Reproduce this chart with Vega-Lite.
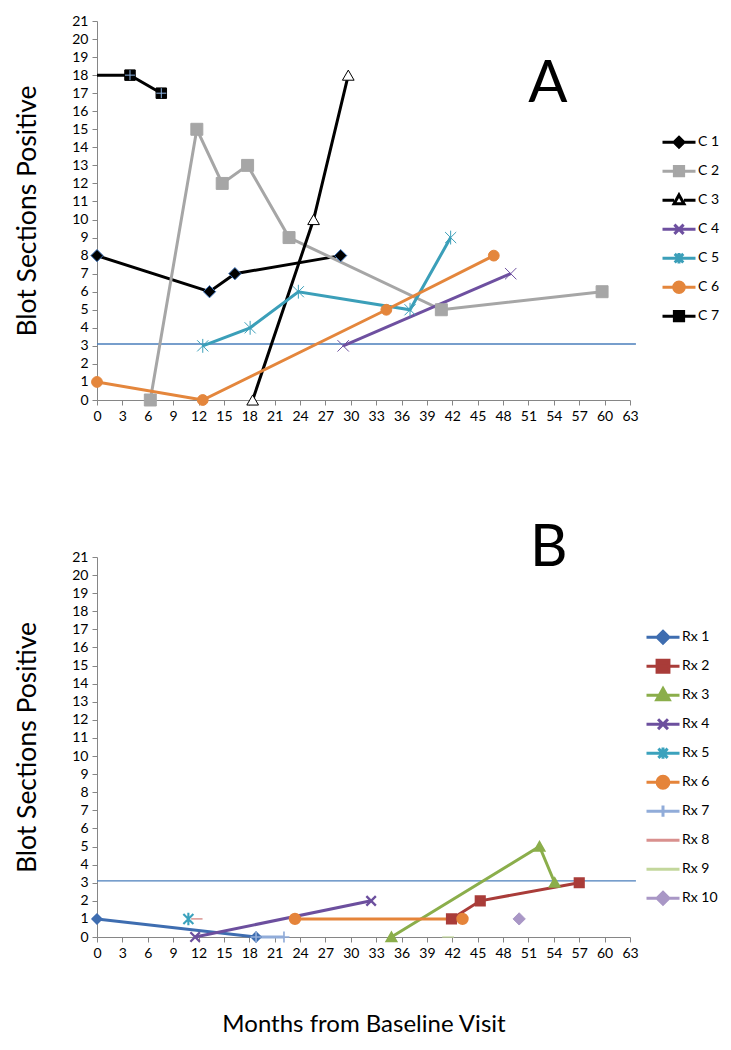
{
  "$schema": "https://vega.github.io/schema/vega-lite/v6.json",
  "padding": {"left": 14, "top": 14, "right": 3, "bottom": 5},
  "bounds": "flush",
  "spacing": 157,
  "config": {
    "view": {"stroke": null},
    "font": "Lato",
    "axis": {
      "grid": false, "domainColor": "#868686", "tickColor": "#868686", "tickSize": 5,
      "labelFont": "Lato", "labelFontSize": 14, "labelColor": "#000000",
      "labelFlush": false, "labelOverlap": false,
      "titleFont": "Lato", "titleFontWeight": "normal", "titleColor": "#000000"
    },
    "axisY": {"titleFontSize": 26.5, "titlePadding": 30, "labelPadding": 4},
    "axisX": {"titleFontSize": 24, "titlePadding": 52, "labelPadding": 4},
    "legend": {
      "title": null, "orient": "none", "symbolSize": 1089, "symbolStrokeWidth": 3,
      "labelFont": "Lato", "labelFontSize": 14, "labelColor": "#000000", "labelOffset": 1,
      "rowPadding": 0, "clipHeight": 28.4
    }
  },
  "datasets": {
    "a": [
      {"series": "C 1", "month": 0, "value": 8},
      {"series": "C 1", "month": 13.3, "value": 6},
      {"series": "C 1", "month": 16.3, "value": 7},
      {"series": "C 1", "month": 28.8, "value": 8},
      {"series": "C 2", "month": 6.3, "value": 0},
      {"series": "C 2", "month": 11.8, "value": 15},
      {"series": "C 2", "month": 14.8, "value": 12},
      {"series": "C 2", "month": 17.8, "value": 13},
      {"series": "C 2", "month": 22.7, "value": 9},
      {"series": "C 2", "month": 40.7, "value": 5},
      {"series": "C 2", "month": 59.7, "value": 6},
      {"series": "C 3", "month": 18.4, "value": 0},
      {"series": "C 3", "month": 25.6, "value": 10},
      {"series": "C 3", "month": 29.7, "value": 18},
      {"series": "C 4", "month": 29.1, "value": 3},
      {"series": "C 4", "month": 48.9, "value": 7},
      {"series": "C 5", "month": 12.5, "value": 3},
      {"series": "C 5", "month": 18.1, "value": 4},
      {"series": "C 5", "month": 23.8, "value": 6},
      {"series": "C 5", "month": 37.0, "value": 5},
      {"series": "C 5", "month": 41.8, "value": 9},
      {"series": "C 6", "month": 0, "value": 1},
      {"series": "C 6", "month": 12.5, "value": 0},
      {"series": "C 6", "month": 34.2, "value": 5},
      {"series": "C 6", "month": 46.9, "value": 8},
      {"series": "C 7", "month": -3, "value": 18},
      {"series": "C 7", "month": 3.9, "value": 18},
      {"series": "C 7", "month": 7.6, "value": 17}
    ],
    "b": [
      {"series": "Rx 1", "month": 0, "value": 1},
      {"series": "Rx 1", "month": 18.8, "value": 0},
      {"series": "Rx 2", "month": 41.9, "value": 1},
      {"series": "Rx 2", "month": 45.3, "value": 2},
      {"series": "Rx 2", "month": 57.0, "value": 3},
      {"series": "Rx 3", "month": 34.8, "value": 0},
      {"series": "Rx 3", "month": 52.3, "value": 5},
      {"series": "Rx 3", "month": 54.1, "value": 3},
      {"series": "Rx 4", "month": 11.6, "value": 0},
      {"series": "Rx 4", "month": 32.4, "value": 2},
      {"series": "Rx 5", "month": 10.8, "value": 1},
      {"series": "Rx 6", "month": 23.4, "value": 1},
      {"series": "Rx 6", "month": 43.2, "value": 1},
      {"series": "Rx 7", "month": 18.8, "value": 0},
      {"series": "Rx 7", "month": 22.1, "value": 0},
      {"series": "Rx 8", "month": 11.8, "value": 1},
      {"series": "Rx 9", "month": 41.5, "value": 0},
      {"series": "Rx 10", "month": 49.9, "value": 1}
    ]
  },
  "resolve": {
    "scale": {"color": "independent", "shape": "independent", "fill": "independent", "stroke": "independent", "strokeWidth": "independent", "size": "independent"},
    "legend": {"color": "independent"}
  },
  "vconcat": [
    {
      "width": 533, "height": 379,
      "data": {"name": "a"},
      "encoding": {
        "x": {"field": "month", "type": "quantitative", "scale": {"domain": [0, 63], "nice": false, "zero": false},
              "axis": {"values": [0,3,6,9,12,15,18,21,24,27,30,33,36,39,42,45,48,51,54,57,60,63], "title": null}},
        "y": {"field": "value", "type": "quantitative", "scale": {"domain": [0, 21], "nice": false},
              "axis": {"values": [0,1,2,3,4,5,6,7,8,9,10,11,12,13,14,15,16,17,18,19,20,21], "title": "Blot Sections Positive"}}
      },
      "layer": [
        {
          "data": {"values": [{"threshold": 3.1, "start": 0, "end": 63.7}]},
          "mark": {"type": "rule", "color": "#4a7ebb", "strokeWidth": 1.4},
          "encoding": {
            "y": {"field": "threshold", "type": "quantitative"},
            "x": {"field": "start", "type": "quantitative"},
            "x2": {"field": "end"}
          }
        },
        {
          "mark": {"type": "line", "strokeWidth": 3, "clip": true},
          "encoding": {
            "color": {
              "field": "series", "type": "nominal",
              "scale": {"domain": ["C 1","C 2","C 3","C 4","C 5","C 6","C 7"],
                        "range": ["#000000","#a6a6a6","#000000","#6e50a0","#3b9fb9","#e4863c","#000000"]},
              "legend": {
                "legendX": 564, "legendY": 107,
                "encode": {"symbols": {"update": {
                  "shape": {"signal": "datum.value === 'C 1' ? 'M-1,0L-0.3,0M0.3,0L1,0M0,-0.3L0.3,0L0,0.3L-0.3,0Z' : datum.value === 'C 2' ? 'M-1,0L-0.28,0M0.28,0L1,0M-0.28,-0.28L0.28,-0.28L0.28,0.28L-0.28,0.28Z' : datum.value === 'C 3' ? 'M-1,0L-0.3,0M0.3,0L1,0M0,-0.32L0.3,0.22L-0.3,0.22Z' : datum.value === 'C 4' ? 'M-1,0L1,0M-0.28,-0.28L0.28,0.28M-0.28,0.28L0.28,-0.28' : datum.value === 'C 5' ? 'M-1,0L1,0M-0.26,-0.26L0.26,0.26M-0.26,0.26L0.26,-0.26M0,-0.32L0,0.32' : datum.value === 'C 6' ? 'M-1,0L-0.3,0M0.3,0L1,0M0.32,0A0.32,0.32 0 1,1 -0.32,0A0.32,0.32 0 1,1 0.32,0Z' : 'M-1,0L-0.28,0M0.28,0L1,0M-0.28,-0.28L0.28,-0.28L0.28,0.28L-0.28,0.28Z'"},
                  "fill": {"signal": "datum.value === 'C 3' ? '#ffffff' : (datum.value === 'C 4' || datum.value === 'C 5') ? 'transparent' : datum.value === 'C 2' ? '#a6a6a6' : datum.value === 'C 6' ? '#e4863c' : '#000000'"},
                  "stroke": {"signal": "datum.value === 'C 2' ? '#a6a6a6' : datum.value === 'C 4' ? '#6e50a0' : datum.value === 'C 5' ? '#3b9fb9' : datum.value === 'C 6' ? '#e4863c' : '#000000'"}
                }}}
              }
            }
          }
        },
        {
          "transform": [{"filter": "datum.month >= 0"}],
          "mark": {"type": "point", "filled": true, "opacity": 1},
          "encoding": {
            "shape": {"field": "series", "type": "nominal", "legend": null,
              "scale": {"domain": ["C 7","C 6","C 5","C 4","C 3","C 2","C 1"],
                        "range": ["square","circle","M-1,-1L1,1M-1,1L1,-1M0,-1.25L0,1.25","M-1,-1L1,1M-1,1L1,-1","triangle-up","square","diamond"]}},
            "fill": {"field": "series", "type": "nominal", "legend": null,
              "scale": {"domain": ["C 7","C 6","C 5","C 4","C 3","C 2","C 1"],
                        "range": ["#000000","#e4863c","transparent","transparent","#ffffff","#a6a6a6","#000000"]}},
            "stroke": {"field": "series", "type": "nominal", "legend": null,
              "scale": {"domain": ["C 7","C 6","C 5","C 4","C 3","C 2","C 1"],
                        "range": ["#000000","#e4863c","#3b9fb9","#6e50a0","#000000","#a6a6a6","#3a70b8"]}},
            "strokeWidth": {"field": "series", "type": "nominal", "legend": null,
              "scale": {"domain": ["C 7","C 6","C 5","C 4","C 3","C 2","C 1"],
                        "range": [1, 1, 1.5, 1.5, 1.2, 1, 1]}},
            "size": {"field": "series", "type": "nominal", "legend": null,
              "scale": {"domain": ["C 7","C 6","C 5","C 4","C 3","C 2","C 1"],
                        "range": [110, 150, 130, 120, 110, 110, 100]}}
          }
        },
        {
          "transform": [{"filter": "datum.series === 'C 7' && datum.month >= 0"}],
          "mark": {"type": "point", "shape": "M-1,0L1,0M0,-1L0,1", "stroke": "#8db3e2", "strokeWidth": 1, "size": 100, "opacity": 1}
        },
        {
          "data": {"values": [{"label": "A", "lx": 53.3, "ly": 17.45}]},
          "mark": {"type": "text", "fontSize": 58, "font": "Lato", "align": "center", "baseline": "middle", "color": "#000000"},
          "encoding": {
            "x": {"field": "lx", "type": "quantitative"},
            "y": {"field": "ly", "type": "quantitative"},
            "text": {"field": "label"}
          }
        }
      ]
    },
    {
      "width": 533, "height": 380,
      "data": {"name": "b"},
      "encoding": {
        "x": {"field": "month", "type": "quantitative", "scale": {"domain": [0, 63], "nice": false, "zero": false},
              "axis": {"values": [0,3,6,9,12,15,18,21,24,27,30,33,36,39,42,45,48,51,54,57,60,63], "title": "Months from Baseline Visit"}},
        "y": {"field": "value", "type": "quantitative", "scale": {"domain": [0, 21], "nice": false},
              "axis": {"values": [0,1,2,3,4,5,6,7,8,9,10,11,12,13,14,15,16,17,18,19,20,21], "title": "Blot Sections Positive"}}
      },
      "layer": [
        {
          "data": {"values": [{"threshold": 3.1, "start": 0, "end": 63.7}]},
          "mark": {"type": "rule", "color": "#4a7ebb", "strokeWidth": 1.4},
          "encoding": {
            "y": {"field": "threshold", "type": "quantitative"},
            "x": {"field": "start", "type": "quantitative"},
            "x2": {"field": "end"}
          }
        },
        {
          "mark": {"type": "line", "strokeWidth": 3},
          "encoding": {
            "color": {
              "field": "series", "type": "nominal",
              "scale": {"domain": ["Rx 1","Rx 2","Rx 3","Rx 4","Rx 5","Rx 6","Rx 7","Rx 8","Rx 9","Rx 10"],
                        "range": ["#3e6db0","#a93c39","#8bae4b","#6c4f9e","#3ba2bd","#e5843a","#91acd9","#d9908e","#c3d79c","#a997c6"]},
              "legend": {
                "legendX": 548, "legendY": 66,
                "encode": {"symbols": {"update": {
                  "shape": {"signal": "datum.value === 'Rx 1' || datum.value === 'Rx 10' ? 'M-1,0L1,0M0,-0.36L0.36,0L0,0.36L-0.36,0Z' : datum.value === 'Rx 2' ? 'M-1,0L1,0M-0.36,-0.36L0.36,-0.36L0.36,0.36L-0.36,0.36Z' : datum.value === 'Rx 3' ? 'M-1,0L1,0M0,-0.4L0.38,0.28L-0.38,0.28Z' : datum.value === 'Rx 4' ? 'M-1,0L1,0M-0.3,-0.3L0.3,0.3M-0.3,0.3L0.3,-0.3' : datum.value === 'Rx 5' ? 'M-1,0L1,0M-0.28,-0.28L0.28,0.28M-0.28,0.28L0.28,-0.28M0,-0.34L0,0.34' : datum.value === 'Rx 6' ? 'M-1,0L1,0M0.36,0A0.36,0.36 0 1,1 -0.36,0A0.36,0.36 0 1,1 0.36,0Z' : datum.value === 'Rx 7' ? 'M-1,0L1,0M0,-0.34L0,0.34' : 'M-1,0L1,0'"},
                  "fill": {"signal": "datum.value === 'Rx 1' ? '#3e6db0' : datum.value === 'Rx 2' ? '#a93c39' : datum.value === 'Rx 3' ? '#8bae4b' : datum.value === 'Rx 6' ? '#e5843a' : datum.value === 'Rx 10' ? '#a997c6' : 'transparent'"},
                  "stroke": {"signal": "datum.value === 'Rx 1' ? '#3e6db0' : datum.value === 'Rx 2' ? '#a93c39' : datum.value === 'Rx 3' ? '#8bae4b' : datum.value === 'Rx 4' ? '#6c4f9e' : datum.value === 'Rx 5' ? '#3ba2bd' : datum.value === 'Rx 6' ? '#e5843a' : datum.value === 'Rx 7' ? '#91acd9' : datum.value === 'Rx 8' ? '#d9908e' : datum.value === 'Rx 9' ? '#c3d79c' : '#a997c6'"}
                }}}
              }
            }
          }
        },
        {
          "mark": {"type": "point", "filled": true, "opacity": 1},
          "encoding": {
            "shape": {"field": "series", "type": "nominal", "legend": null,
              "scale": {"domain": ["Rx 10","Rx 9","Rx 8","Rx 7","Rx 6","Rx 5","Rx 4","Rx 3","Rx 2","Rx 1"],
                        "range": ["diamond","stroke","stroke","M-1,0L1,0M0,-1L0,1","circle","M-1,-1L1,1M-1,1L1,-1M0,-1.25L0,1.25","M-1,-1L1,1M-1,1L1,-1","triangle-up","square","diamond"]}},
            "fill": {"field": "series", "type": "nominal", "legend": null,
              "scale": {"domain": ["Rx 10","Rx 9","Rx 8","Rx 7","Rx 6","Rx 5","Rx 4","Rx 3","Rx 2","Rx 1"],
                        "range": ["#a997c6","transparent","transparent","transparent","#e5843a","transparent","transparent","#8bae4b","#a93c39","#3e6db0"]}},
            "stroke": {"field": "series", "type": "nominal", "legend": null,
              "scale": {"domain": ["Rx 10","Rx 9","Rx 8","Rx 7","Rx 6","Rx 5","Rx 4","Rx 3","Rx 2","Rx 1"],
                        "range": ["#a997c6","#c3d79c","#d9908e","#91acd9","#e5843a","#3ba2bd","#6c4f9e","#8bae4b","#a93c39","#3e6db0"]}},
            "strokeWidth": {"field": "series", "type": "nominal", "legend": null,
              "scale": {"domain": ["Rx 10","Rx 9","Rx 8","Rx 7","Rx 6","Rx 5","Rx 4","Rx 3","Rx 2","Rx 1"],
                        "range": [1, 3, 3, 1.5, 1, 1.5, 1.5, 1, 1, 1]}},
            "size": {"field": "series", "type": "nominal", "legend": null,
              "scale": {"domain": ["Rx 10","Rx 9","Rx 8","Rx 7","Rx 6","Rx 5","Rx 4","Rx 3","Rx 2","Rx 1"],
                        "range": [150, 60, 60, 140, 160, 140, 140, 170, 170, 150]}}
          }
        },
        {
          "data": {"values": [{"label": "B", "lx": 53.4, "ly": 21.44}]},
          "mark": {"type": "text", "fontSize": 58, "font": "Lato", "align": "center", "baseline": "middle", "color": "#000000"},
          "encoding": {
            "x": {"field": "lx", "type": "quantitative"},
            "y": {"field": "ly", "type": "quantitative"},
            "text": {"field": "label"}
          }
        }
      ]
    }
  ]
}
